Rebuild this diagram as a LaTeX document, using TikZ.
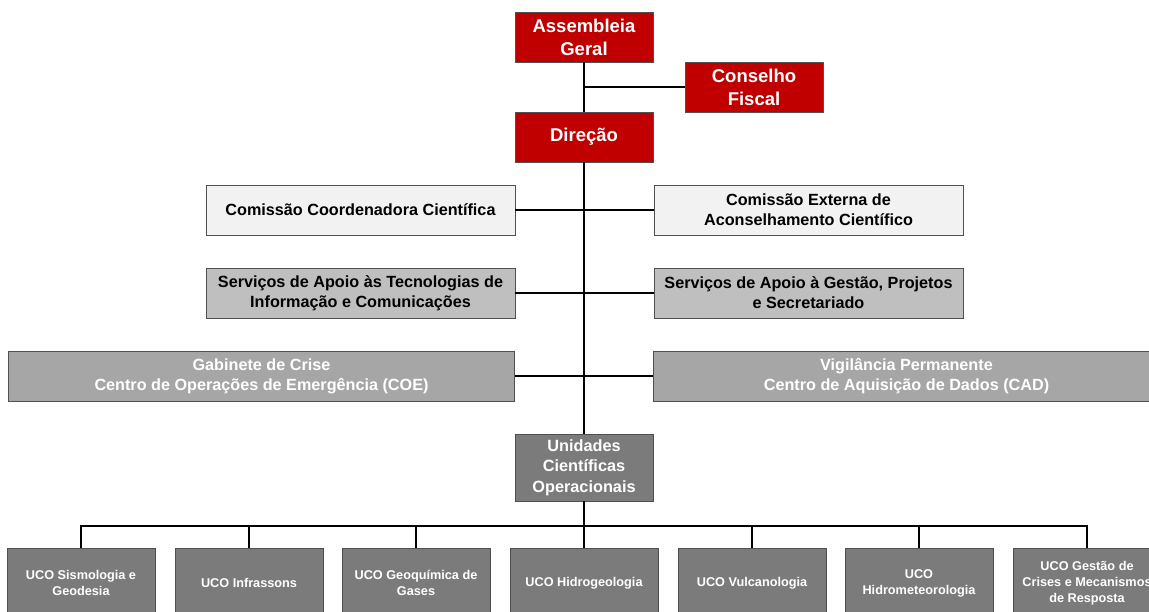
\documentclass[tikz,border=0pt]{standalone}
\usepackage{fontspec}
\setmainfont{Liberation Sans}
\definecolor{redbox}{HTML}{C00000}
\definecolor{lightbox}{HTML}{F2F2F2}
\definecolor{midbox}{HTML}{BFBFBF}
\definecolor{darkbox}{HTML}{A6A6A6}
\definecolor{ucobox}{HTML}{7B7B7B}
\definecolor{edgegray}{HTML}{505050}
\begin{document}
\begin{tikzpicture}[x=1pt,y=-1pt,
  box/.style={draw=edgegray,line width=0.8pt,inner sep=0pt,align=center,font=\bfseries},
  redb/.style={box,fill=redbox,text=white,minimum width=138pt,minimum height=50pt,font=\bfseries\fontsize{18.5}{23}\selectfont},
  lightb/.style={box,fill=lightbox,text=black,minimum width=309pt,minimum height=50pt,font=\bfseries\fontsize{16.2}{20}\selectfont},
  midb/.style={box,fill=midbox,text=black,minimum width=309pt,minimum height=50pt,font=\bfseries\fontsize{16.2}{20}\selectfont},
  darkb/.style={box,fill=darkbox,text=white,minimum width=506pt,minimum height=50pt,font=\bfseries\fontsize{16.2}{20}\selectfont},
  unitb/.style={box,fill=ucobox,text=white,minimum width=138pt,minimum height=67pt,font=\bfseries\fontsize{16.3}{20.5}\selectfont},
  ucob/.style={box,fill=ucobox,text=white,minimum width=148pt,minimum height=70pt,font=\bfseries\fontsize{12.7}{16}\selectfont},
  conn/.style={draw=black,line width=1.6pt}]
\useasboundingbox (0,0) rectangle (1149,611);
\clip (0,0) rectangle (1149,611);
\fill[white] (0,0) rectangle (1149,611);

\coordinate (bus) at (584,526);
\node[redb] (ag) at (584,37) {Assembleia\\Geral};
\node[redb] (cf) at (754,87) {Conselho\\Fiscal};
\node[redb] (dir) at (584,137) {Direção};
\node[lightb] (ccc) at (360.5,210) {Comissão Coordenadora Científica};
\node[lightb] (cea) at (808.5,210) {Comissão Externa de\\Aconselhamento Científico};
\node[midb] (sti) at (360.5,293) {Serviços de Apoio às Tecnologias de\\Informação e Comunicações};
\node[midb] (sgp) at (808.5,293) {Serviços de Apoio à Gestão, Projetos\\e Secretariado};
\node[darkb] (gc) at (261.5,376) {Gabinete de Crise\\Centro de Operações de Emergência (COE)};
\node[darkb] (vp) at (906.5,376) {Vigilância Permanente\\Centro de Aquisição de Dados (CAD)};
\node[unitb] (uco) at (584,467.5) {Unidades\\Científicas\\Operacionais};

\node[ucob] (b1) at (81,583) {UCO Sismologia e\\Geodesia};
\node[ucob] (b2) at (249,583) {UCO Infrassons};
\node[ucob] (b3) at (416,583) {UCO Geoquímica de\\Gases};
\node[ucob] (b4) at (584,583) {UCO Hidrogeologia};
\node[ucob] (b5) at (752,583) {UCO Vulcanologia};
\node[ucob] (b6) at (919,583) {UCO\\Hidrometeorologia};
\node[ucob] (b7) at (1087,583) {UCO Gestão de\\Crises e Mecanismos\\de Resposta};

\path[conn] (ag.south) -- (dir.north);
\path[conn] (ag.south |- cf.west) -- (cf.west);
\path[conn] (dir.south) -- (uco.north);
\path[conn] (ccc.east) -- (cea.west);
\path[conn] (sti.east) -- (sgp.west);
\path[conn] (gc.east) -- (vp.west);
\path[conn] (uco.south) -- (bus);
\path[conn] (b1.north) -- (b1.north |- bus) -- (b7.north |- bus) -- (b7.north);
\foreach \i in {2,...,6} {\path[conn] (b\i.north) -- (b\i.north |- bus);}
\end{tikzpicture}
\end{document}
